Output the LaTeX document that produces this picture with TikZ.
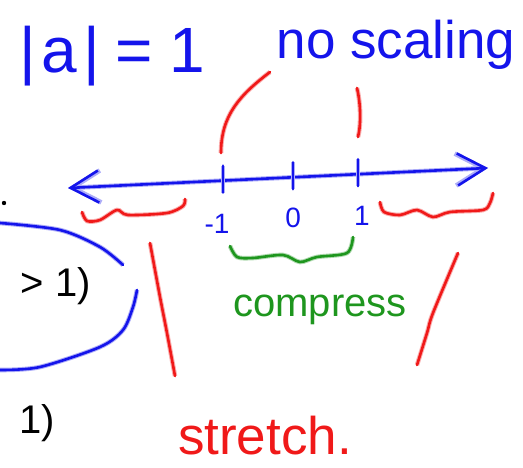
\documentclass[tikz,border=0pt]{standalone}
\usepackage{fontspec}
\setmainfont{Liberation Sans}
\usetikzlibrary{arrows.meta,positioning,calc}
\definecolor{penblue}{RGB}{20,20,235}
\definecolor{penred}{RGB}{240,25,25}
\definecolor{pengreen}{RGB}{30,150,30}
\definecolor{penblack}{RGB}{0,0,0}

\begin{document}
\begin{tikzpicture}[
    x=1pt, y=-1pt,
    ink/.style={draw=#1, line width=2.6pt, line cap=round, line join=round,
      preaction={draw=#1!35, line width=4.6pt}},
    barb/.style={{Straight Barb[length=28pt, width=32pt]}-{Straight Barb[length=28pt, width=32pt]}},
    hand/.style={text=#1, inner sep=0pt},
    big/.style={font=\fontsize{53}{56}\selectfont},
    mid/.style={font=\fontsize{40}{44}\selectfont},
    small/.style={font=\fontsize{28}{30}\selectfont},
    plain/.style={text=penblack, inner sep=0pt, font=\fontsize{40}{44}\selectfont}
  ]
    \useasboundingbox (0,0) rectangle (523,468);

    \node[hand=penblue, font=\fontsize{64}{68}\selectfont] (absa) at (112,56) {|\hspace{6pt}a\hspace{6pt}|\hspace{16pt}=\hspace{16pt}1};
    \node[hand=penblue, big] (noscale) at (396,45) {no scaling};

    \coordinate (lend) at (68,188);
    \coordinate (rend) at (488,168);
    \coordinate (t1) at ($(lend)!0.369!(rend)$);
    \coordinate (t2) at ($(lend)!0.536!(rend)$);
    \coordinate (t3) at ($(lend)!0.690!(rend)$);

    \draw[ink=penblue, barb] (lend) -- (rend);
    \foreach \t in {t1,t2,t3}
      \draw[ink=penblue] ($(\t)+(0,-15)$) -- ($(\t)+(0,12)$);

    \node[hand=penblue, small, below=33pt of t1, xshift=-6pt] (lm) {-1};
    \node[hand=penblue, small, below=30pt of t2] (lz) {0};
    \node[hand=penblue, small, below=32pt of t3, xshift=4pt] (lp) {1};

    \draw[ink=penred] (221,153) .. controls (221,115) and (240,95) .. (270,72);
    \draw[ink=penred] (357,88) .. controls (361,105) and (361,125) .. (358,137);

    \draw[ink=penred] plot[smooth] coordinates {(82,212) (87,221) (100,220) (117,210) (128,215) (167,213) (183,206) (185,199)};
    \draw[ink=penred] plot[smooth] coordinates {(380,202) (384,212) (400,215) (417,210) (433,217) (450,212) (483,210) (490,203) (493,193)};
    \draw[ink=pengreen] plot[smooth] coordinates {(230,246) (237,257) (253,258) (283,255) (300,262) (317,257) (347,253) (353,237)};

    \node[hand=pengreen, mid] (compress) at (320,310) {compress};

    \draw[ink=penred] plot[smooth] coordinates {(150,243) (160,297) (167,333) (175,376)};
    \draw[ink=penred] plot[smooth] coordinates {(458,253) (433,313) (427,333) (417,365)};

    \node[hand=penred, big] (stretch) at (265,436) {stretch.};

    \draw[ink=penblue] plot[smooth] coordinates {(0,223) (60,230) (100,247) (123,265)};
    \draw[ink=penblue] plot[smooth] coordinates {(137,290) (133,307) (123,330) (100,347) (40,367) (0,370)};

    \fill[penblack] (4,203) circle (2.2);
    \node[plain] (gtone) at (56,286) {> 1)};
    \node[plain] (one) at (37,423) {1)};
  \end{tikzpicture}
\end{document}
